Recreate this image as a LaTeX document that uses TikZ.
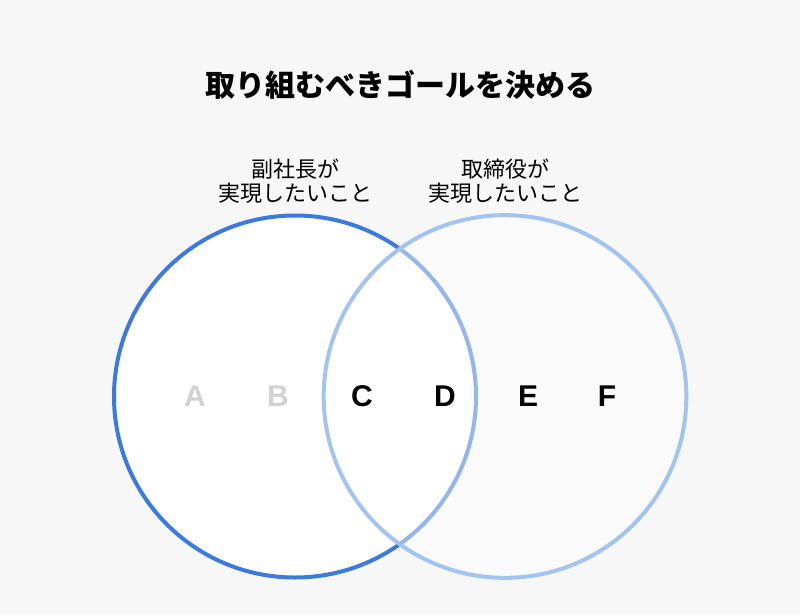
\documentclass[tikz,border=0pt]{standalone}
\usepackage{fontspec}
\setmainfont{Liberation Sans}
\newfontfamily\jp{Noto Sans CJK JP}
\definecolor{bgc}{HTML}{F7F7F7}
\definecolor{blueA}{HTML}{3B7BE0}
\definecolor{blueB}{HTML}{A3C4F0}
\definecolor{dimgray}{HTML}{D2D2D2}
\tikzset{
  title/.style={font=\jp\bfseries\fontsize{22.5}{26}\selectfont, text=black},
  sub/.style={font=\jp\fontsize{16.5}{18.5}\selectfont, align=center, text=black},
  letter/.style={font=\bfseries\fontsize{22.5}{26}\selectfont},
  dim/.style={letter, text=dimgray},
  strong/.style={letter, text=black},
}
\begin{document}
\begin{tikzpicture}[x=0.75pt,y=-0.75pt]
\fill[bgc] (0,0) rectangle (800,615);
\useasboundingbox (0,0) rectangle (800,615);
\node[title] (t) at (400,85) {取り組むべきゴールを決める};
\node[sub] (s1) at (295,181) {副社長が\\実現したいこと};
\node[sub] (s2) at (505,181) {取締役が\\実現したいこと};
\draw[blueA, line width=3pt, fill=white] (295,396.5) circle[radius=135.75pt] coordinate (cl);
\draw[blueB, line width=3pt, fill=white, fill opacity=0.45] (505,396.5) circle[radius=136pt] coordinate (cr);
\node[dim] (a) at (195,396) {A};
\node[dim] (b) at (278,396) {B};
\node[strong] (c) at (362,396) {C};
\node[strong] (d) at (445,396) {D};
\node[strong] (e) at (528,396) {E};
\node[strong] (f) at (607,396) {F};
\end{tikzpicture}
\end{document}
